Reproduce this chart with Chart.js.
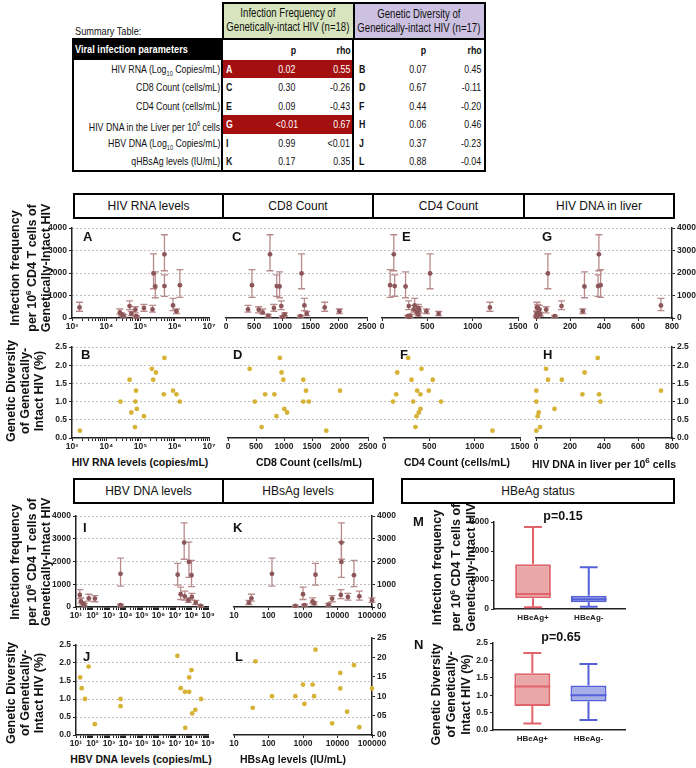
<!DOCTYPE html>
<html>
<head>
<meta charset="UTF-8">
<script src="https://cdn.jsdelivr.net/npm/chart.js@4.4.1/dist/chart.umd.min.js"></script>
<style>
    body { margin:0; background:#fff; }
    #page { position:relative; width:696px; height:768px; overflow:hidden; font-family:"Liberation Sans", Arial, sans-serif; color:#111; }
    #page canvas { position:absolute; }
    .t { position:absolute; white-space:nowrap; z-index:3; }
    .tbl { font-size:11px; line-height:18px; }
    .hbox { position:absolute; border:2px solid #000; box-sizing:border-box; font-size:12px; text-align:center; z-index:3; background:#fff; }
    .ytitle { position:absolute; font-weight:bold; font-size:12.5px; text-align:center; white-space:nowrap; transform:rotate(-90deg); z-index:3; }
    .xtitle { position:absolute; font-weight:bold; font-size:10.5px; white-space:nowrap; transform:translateX(-50%); z-index:3; }
    .letter { position:absolute; font-weight:bold; font-size:13px; line-height:13px; z-index:3; }
</style>
</head>
<body>
<div id="page"></div>

<script>
    // ---- summary table ----
    const tableParams = ['HIV RNA (Log<sub style="font-size:7px">10</sub> Copies/mL)', 'CD8 Count (cells/mL)', 'CD4 Count (cells/mL)',
        'HIV DNA in the Liver per 10<sup style="font-size:7px">6</sup> cells', 'HBV DNA (Log<sub style="font-size:7px">10</sub> Copies/mL)', 'qHBsAg levels (IU/mL)'];
    const freqLetters = ['A', 'C', 'E', 'G', 'I', 'K'];
    const freqP = ['0.02', '0.30', '0.09', '<0.01', '0.99', '0.17'];
    const freqRho = ['0.55', '-0.26', '-0.43', '0.67', '<0.01', '0.35'];
    const divLetters = ['B', 'D', 'F', 'H', 'J', 'L'];
    const divP = ['0.07', '0.67', '0.44', '0.06', '0.37', '0.88'];
    const divRho = ['0.45', '-0.11', '-0.20', '0.46', '-0.23', '-0.04'];
    const sigRows = [0, 3];

    // ---- infection frequency (same 18 people in every panel, same order) ----
    const freqVal = [2830, 1980, 1460, 1420, 1400, 560, 530, 470, 440, 380, 370, 300, 250, 190, 160, 100, 80, 50];
    const freqLo  = [2100, 1300, 920, 960, 900, 330, 370, 300, 300, 260, 230, 200, 170, 110, 90, 50, 40, 20];
    const freqHi  = [3700, 2850, 2150, 1920, 2050, 870, 760, 700, 600, 560, 500, 400, 400, 290, 230, 160, 120, 80];
    const hivRna   = [5e5, 2.4e5, 1.41e6, 5e5, 2.7e5, 8.9e5, 4.8e4, 1660, 1.26e5, 2.24e5, 7.1e4, 1.12e6, 2.5e4, 5.4e4, 2.8e4, 3.2e4, 7.4e4, 7.6e4];
    const cd8      = [780, 1340, 460, 900, 950, 1390, 980, 1750, 850, 390, 580, 2010, 650, 1430, 1040, 750, 1320, 1000];
    const cd4      = [130, 530, 90, 140, 260, 360, 295, 1190, 400, 350, 410, 490, 385, 625, 400, 310, 285, 300];
    const liverDna = [370, 70, 380, 365, 285, 735, 150, 5, 10, 20, 60, 275, 15, 3, 25, 8, 110, 2];
    const hbvDna   = [3.6e7, 7e7, 5000, 1.45e7, 1e8, 2.2e7, 17, 3.9e7, 1.05e8, 60, 140, 6.5e7, 20, 1.8e8, 25, 32, 5000, 3.6e8];
    const hbsAg    = [13000, 13000, 126, 2300, 30000, 1000, 12500, 43000, 20000, 32, 7000, 100000, 1900, 27, 2100, 5500, 1100, 600];

    // ---- genetic diversity ----
    const divRnaX = [1700, 26000, 48000, 54000, 69000, 71000, 74000, 78000, 126000, 214000, 234000, 282000, 479000, 500000, 891000, 1.12e6, 1.41e6];
    const divRnaY = [0.2, 1.0, 1.6, 0.7, 0.3, 1.0, 1.3, 0.8, 0.6, 1.9, 1.6, 1.8, 1.2, 2.2, 1.3, 1.2, 1.0];
    const divCd8X = [387, 478, 601, 663, 828, 865, 926, 957, 988, 1006, 1055, 1344, 1344, 1393, 1442, 1755, 2000];
    const divCd8Y = [1.9, 1.0, 0.3, 1.2, 1.2, 0.6, 2.2, 1.8, 1.6, 0.8, 0.7, 1.6, 1.0, 1.3, 1.0, 0.2, 1.3];
    const divCd4X = [267, 146, 413, 304, 538, 135, 366, 494, 402, 99, 322, 629, 402, 384, 358, 347, 1196];
    const divCd4Y = [2.2, 1.8, 1.9, 1.6, 1.6, 1.2, 1.3, 1.3, 1.2, 1.0, 1.0, 1.0, 0.8, 0.7, 0.6, 0.3, 0.2];
    const divLivX = [2, 2, 2, 10, 16, 24, 59, 71, 109, 152, 273, 286, 363, 371, 379, 735];
    const divLivY = [1.3, 1.0, 0.2, 0.6, 0.7, 0.3, 1.9, 1.6, 0.8, 1.6, 1.2, 1.8, 2.2, 1.2, 1.0, 1.3];
    const divHbvX = [18, 22, 35, 58, 138, 5000, 5000, 1.4e7, 2.2e7, 4e7, 4.2e7, 7.2e7, 7.2e7, 1e8, 1.1e8, 1.7e8, 3.8e8];
    const divHbvY = [1.6, 1.3, 1.0, 1.9, 0.3, 1.0, 0.8, 2.2, 1.3, 1.2, 0.2, 1.2, 1.6, 1.8, 0.6, 0.7, 1.0];
    const divSagX = [35, 42, 126, 600, 1000, 1100, 1900, 2100, 2300, 7000, 12000, 12000, 19000, 30000, 43000, 100000];
    const divSagY = [7, 19, 10, 10, 13, 8, 13, 10, 22, 3, 16, 12, 6, 18, 2, 12];

    // ---- HBeAg box plots ----
    const boxGroups = ['HBeAg+', 'HBeAg-'];
    const mMin = [60, 80], mQ1 = [370, 230], mMed = [520, 335], mQ3 = [1540, 460], mMax = [2830, 1440];
    const nMin = [0.19, 0.29], nQ1 = [0.69, 0.82], nMed = [1.25, 1.0], nQ3 = [1.63, 1.28], nMax = [2.21, 1.9];
</script>

<script>
    const page = document.getElementById('page');
    const AX = '#222';
    const FREQ_PT = '#8d5659', FREQ_ERR = '#b98a8c', DIV_PT = '#d6b236';
    const M = {l: 36, r: 36, t: 8, b: 16};
    const MB = {l: 36, r: 36, t: 8, b: 20};
    const SUP = ['⁰', '¹', '²', '³', '⁴', '⁵', '⁶', '⁷', '⁸', '⁹'];
    const NARROW = 0.8;   // table font is a condensed face; squeeze Liberation Sans to match

    Chart.defaults.font.family = '"Liberation Sans", Arial, sans-serif';
    Chart.defaults.font.weight = 'bold';
    Chart.defaults.font.size = 8.5;
    Chart.defaults.color = AX;
    Chart.defaults.animation = false;
    Chart.defaults.responsive = false;
    Chart.defaults.plugins.legend.display = false;
    Chart.defaults.plugins.tooltip.enabled = false;

    function el(tag, cls, html, css) {
        var d = document.createElement(tag);
        if (cls) d.className = cls;
        if (html != null) d.innerHTML = html;
        if (css) d.style.cssText += css;
        page.appendChild(d);
        return d;
    }
    // table text anchored at x (left edge, centre or right edge), squeezed horizontally
    function tcell(content, asText, x, y, align, css) {
        var left = align === 'right' ? x - 300 : (align === 'center' ? x - 150 : x);
        var d = el('div', 't tbl', null, 'left:' + left + 'px;top:' + y + 'px;width:300px;text-align:' + align + ';' + (css || ''));
        var s = document.createElement('span');
        s.style.display = 'inline-block';
        s.style.transform = 'scaleX(' + NARROW + ')';
        s.style.transformOrigin = align === 'right' ? '100% 50%' : (align === 'center' ? '50% 50%' : '0 50%');
        if (asText) s.textContent = content; else s.innerHTML = content;
        d.appendChild(s);
        return d;
    }

    // ---------- table ----------
    tcell('Summary Table:', true, 75, 22, 'left', 'font-size:11.5px;');
    el('div', 't', '', 'left:222px;top:2px;width:133px;height:38px;box-sizing:border-box;border:2px solid #000;background:#d7e4bd;z-index:2;');
    el('div', 't', '', 'left:353px;top:2px;width:133px;height:38px;box-sizing:border-box;border:2px solid #000;background:#ccc1e0;z-index:2;');
    tcell('Infection Frequency of<br>Genetically-intact HIV (n=18)', false, 288, 6, 'center', 'line-height:14px;font-size:12px;');
    tcell('Genetic Diversity of<br>Genetically-intact HIV (n=17)', false, 419, 7, 'center', 'line-height:14px;font-size:12px;');
    el('div', 't', '', 'left:72px;top:38px;width:414px;height:134px;box-sizing:border-box;border:2px solid #000;z-index:4;');
    el('div', 't', '', 'left:72px;top:38px;width:150px;height:22px;background:#000;z-index:2;');
    tcell('Viral infection parameters', true, 75, 40, 'left', 'color:#fff;font-weight:bold;font-size:11.5px;');
    el('div', 't', '', 'left:221px;top:38px;width:2px;height:133px;background:#000;z-index:4;');
    el('div', 't', '', 'left:352px;top:38px;width:2px;height:133px;background:#000;z-index:4;');
    tcell('p', true, 293, 41, 'center', 'font-weight:bold;');
    tcell('rho', true, 351, 41, 'right', 'font-weight:bold;');
    tcell('p', true, 423, 41, 'center', 'font-weight:bold;');
    tcell('rho', true, 482, 41, 'right', 'font-weight:bold;');
    for (var i = 0; i < tableParams.length; i++) {
        var rowTop = 60 + i * 18.4;
        var sig = sigRows.indexOf(i) >= 0;
        if (sig) el('div', 't', '', 'left:222px;top:' + rowTop + 'px;width:131px;height:18.4px;background:#a3100f;z-index:2;');
        var fc = sig ? 'color:#fff;' : '';
        tcell(tableParams[i], false, 220, rowTop, 'right');
        tcell(freqLetters[i], true, 226, rowTop, 'left', 'font-weight:bold;' + fc);
        tcell(freqP[i], true, 287, rowTop, 'center', fc);
        tcell(freqRho[i], true, 350, rowTop, 'right', fc);
        tcell(divLetters[i], true, 359, rowTop, 'left', 'font-weight:bold;');
        tcell(divP[i], true, 418, rowTop, 'center');
        tcell(divRho[i], true, 481, rowTop, 'right');
    }

    // ---------- header boxes ----------
    function hbox(text, x1, x2, y1, y2) {
        el('div', 'hbox', text, 'left:' + x1 + 'px;top:' + y1 + 'px;width:' + (x2 - x1 + 2) + 'px;height:' + (y2 - y1) + 'px;line-height:' + (y2 - y1 - 4) + 'px;');
    }
    hbox('HIV RNA levels', 73, 222, 193, 219);
    hbox('CD8 Count', 222, 372, 193, 219);
    hbox('CD4 Count', 372, 523, 193, 219);
    hbox('HIV DNA in liver', 523, 673, 193, 219);
    hbox('HBV DNA levels', 73, 222, 478, 504);
    hbox('HBsAg levels', 222, 372, 478, 504);
    hbox('HBeAg status', 401, 673, 478, 504);

    // ---------- titles and letters ----------
    function yTitle(lines, cx, cy, lh) {
        var w = 170, h = lines.length * lh;
        el('div', 'ytitle', lines.join('<br>'), 'width:' + w + 'px;height:' + h + 'px;left:' + (cx - w / 2) + 'px;top:' + (cy - h / 2) + 'px;line-height:' + lh + 'px;');
    }
    var freqTitle = ['Infection frequency', 'per 10<sup style="font-size:8px">6</sup> CD4 T cells of', 'Genetically-Intact HIV'];
    var divTitle = ['Genetic Diversity', 'of Genetically-', 'Intact HIV (%)'];
    yTitle(freqTitle, 29, 268, 14);
    yTitle(divTitle, 25, 391, 14);
    yTitle(freqTitle, 29, 562, 14);
    yTitle(divTitle, 25, 693, 14);
    yTitle(freqTitle, 452, 567, 15);
    yTitle(divTitle, 451, 694, 15);

    function xTitle(html, cx, top) { el('div', 'xtitle', html, 'left:' + cx + 'px;top:' + top + 'px;'); }
    xTitle('HIV RNA levels (copies/mL)', 140, 456);
    xTitle('CD8 Count (cells/mL)', 309, 456);
    xTitle('CD4 Count (cells/mL)', 457, 456);
    xTitle('HIV DNA in liver per 10<sup style="font-size:8px">6</sup> cells', 604, 456);
    xTitle('HBV DNA levels (copies/mL)', 141, 753);
    xTitle('HBsAg levels (IU/mL)', 293, 753);

    function letter(ch, x, y) { el('div', 'letter', ch, 'left:' + x + 'px;top:' + y + 'px;'); }
    letter('A', 83, 230); letter('C', 232, 230); letter('E', 402, 230); letter('G', 542, 230);
    letter('B', 81, 348); letter('D', 233, 348); letter('F', 400, 348); letter('H', 543, 348);
    letter('I', 83, 521); letter('K', 233, 521);
    letter('J', 83, 650); letter('L', 235, 650);
    letter('M', 413, 515); letter('N', 414, 638);
    el('div', 't', 'p=0.15', 'left:563px;top:509px;transform:translateX(-50%);font-weight:bold;font-size:12.5px;');
    el('div', 't', 'p=0.65', 'left:561px;top:630px;transform:translateX(-50%);font-weight:bold;font-size:12.5px;');

    // ---------- chart helpers ----------
    function canvasAt(x, y, w, h, z, m) {
        var c = document.createElement('canvas');
        var W = w + m.l + m.r, H = h + m.t + m.b;
        c.width = W; c.height = H;
        c.style.width = W + 'px'; c.style.height = H + 'px';
        c.style.left = (x - m.l) + 'px'; c.style.top = (y - m.t) + 'px';
        c.style.zIndex = z;
        page.appendChild(c);
        return c;
    }

    function logTicks(e0, e1, minor) {
        var out = [];
        for (var e = e0; e <= e1; e++) {
            out.push(Math.pow(10, e));
            if (minor && e < e1) for (var k = 2; k <= 9; k++) out.push(k * Math.pow(10, e));
        }
        return out;
    }
    function supLabel(v) {
        var e = Math.log10(v);
        return Math.abs(e - Math.round(e)) < 1e-9 ? '10' + SUP[Math.round(e)] : '';
    }
    var plain = function(v) { return String(v); };
    var d1 = function(v) { return v.toFixed(1); };

    function xScale(type, min, max, step, tickList, cb) {
        var s = {
            type: type, min: min, max: max, offset: false,
            border: {display: true, color: AX, width: 1.5},
            grid: {drawOnChartArea: false, drawTicks: true, tickLength: 3, color: AX, lineWidth: 1},
            ticks: {autoSkip: false, maxRotation: 0, padding: 1, stepSize: step, color: AX, callback: cb || plain},
            afterFit: function(sc) { sc.height = M.b; }
        };
        if (tickList) s.afterBuildTicks = function(sc) { sc.ticks = tickList.map(function(v) { return {value: v}; }); };
        return s;
    }
    function yScale(pos, max, step, cb) {
        if (!pos) return {display: false, min: 0, max: max};
        return {
            position: pos, min: 0, max: max,
            border: {display: true, color: AX, width: 1.5},
            grid: {drawOnChartArea: false, drawTicks: true, tickLength: 3, color: AX, lineWidth: 1},
            ticks: {stepSize: step, padding: 2, color: AX, callback: cb},
            afterFit: function(sc) { sc.width = pos === 'left' ? M.l : M.r; }
        };
    }

    const errorBars = {
        id: 'errorBars',
        beforeDatasetsDraw: function(chart) {
            var ctx = chart.ctx, xs = chart.scales.x, ys = chart.scales.y;
            chart.data.datasets.forEach(function(ds) {
                if (!ds.lo) return;
                ctx.save();
                ctx.strokeStyle = FREQ_ERR;
                ctx.lineWidth = 1.3;
                ds.data.forEach(function(p, i) {
                    var px = xs.getPixelForValue(p.x);
                    var y1 = ys.getPixelForValue(ds.lo[i]), y2 = ys.getPixelForValue(ds.hi[i]);
                    ctx.beginPath();
                    ctx.moveTo(px, y1); ctx.lineTo(px, y2);
                    ctx.moveTo(px - 3.5, y1); ctx.lineTo(px + 3.5, y1);
                    ctx.moveTo(px - 3.5, y2); ctx.lineTo(px + 3.5, y2);
                    ctx.stroke();
                });
                ctx.restore();
            });
        }
    };

    function panel(x, y, w, h, xs, ys, datasets) {
        var c = canvasAt(x, y, w, h, 2, M);
        return new Chart(c, {
            type: 'scatter',
            data: {datasets: datasets},
            options: {
                layout: {padding: {left: ys.position === 'left' ? 0 : M.l, right: ys.position === 'right' ? 0 : M.r, top: M.t, bottom: 0}},
                scales: {x: xs, y: ys}
            },
            plugins: [errorBars]
        });
    }

    function freqSet(xv) {
        return [{
            data: xv.map(function(v, i) { return {x: v, y: freqVal[i]}; }),
            lo: freqLo, hi: freqHi,
            pointRadius: 2.4, pointBorderWidth: 0, pointBackgroundColor: FREQ_PT, clip: false
        }];
    }
    function divSet(xv, yv) {
        return [{
            data: xv.map(function(v, i) { return {x: v, y: yv[i]}; }),
            pointRadius: 2.4, pointBorderWidth: 0, pointBackgroundColor: DIV_PT, clip: false
        }];
    }

    function gridRow(x, y, w, h, max, step) {
        var c = canvasAt(x, y, w, h, 1, {l: 0, r: 0, t: 2, b: 2});
        new Chart(c, {
            type: 'scatter',
            data: {datasets: []},
            options: {
                layout: {padding: {top: 2, bottom: 2, left: 0, right: 0}},
                scales: {
                    x: {display: false, min: 0, max: 1},
                    y: {
                        min: 0, max: max,
                        ticks: {display: false, stepSize: step},
                        grid: {drawTicks: false, lineWidth: 1, color: function(c) { return c.tick && c.tick.value === 0 ? 'rgba(0,0,0,0)' : '#bdbdbd'; }},
                        border: {display: false, dash: [2, 2]},
                        afterFit: function(sc) { sc.width = 0; }
                    }
                }
            }
        });
    }

    // background dotted grids across each row
    gridRow(72, 228, 600, 90, 4000, 1000);
    gridRow(72, 347, 600, 91, 2.5, 0.5);
    gridRow(76, 516, 296, 91, 4000, 1000);
    gridRow(76, 645, 296, 90, 2.5, 0.5);

    // row 1: infection frequency
    panel(72, 228, 137, 90, xScale('logarithmic', 1e3, 1e7, null, logTicks(3, 7, true), supLabel), yScale('left', 4000, 1000, plain), freqSet(hivRna));
    panel(226, 228, 141, 90, xScale('linear', 0, 2500, 500), yScale(null, 4000), freqSet(cd8));
    panel(382, 228, 136, 90, xScale('linear', 0, 1500, 500), yScale(null, 4000), freqSet(cd4));
    panel(536, 228, 136, 90, xScale('linear', 0, 800, 200), yScale('right', 4000, 1000, plain), freqSet(liverDna));

    // row 2: genetic diversity
    panel(72, 347, 137, 91, xScale('logarithmic', 1e3, 1e7, null, logTicks(3, 7, true), supLabel), yScale('left', 2.5, 0.5, d1), divSet(divRnaX, divRnaY));
    panel(228, 347, 140, 91, xScale('linear', 0, 2500, 500), yScale(null, 2.5), divSet(divCd8X, divCd8Y));
    panel(384, 347, 136, 91, xScale('linear', 0, 1500, 500), yScale(null, 2.5), divSet(divCd4X, divCd4Y));
    panel(536, 347, 136, 91, xScale('linear', 0, 800, 200), yScale('right', 2.5, 0.5, d1), divSet(divLivX, divLivY));

    // row 3: HBV
    panel(76, 516, 132, 91, xScale('logarithmic', 1e1, 1e9, null, logTicks(1, 9, true), supLabel), yScale('left', 4000, 1000, plain), freqSet(hbvDna));
    panel(234, 516, 138, 91, xScale('logarithmic', 10, 1e5, null, logTicks(1, 5, false), plain), yScale('right', 4000, 1000, plain), freqSet(hbsAg));

    // row 4
    panel(76, 645, 132, 90, xScale('logarithmic', 1e1, 1e9, null, logTicks(1, 9, true), supLabel), yScale('left', 2.5, 0.5, d1), divSet(divHbvX, divHbvY));
    panel(234, 638, 138, 97, xScale('logarithmic', 10, 1e5, null, logTicks(1, 5, false), plain), yScale('right', 25, 5, function(v) { return String(v).padStart(2, '0'); }), divSet(divSagX, divSagY));

    // ---------- box plots ----------
    const whiskers = {
        id: 'whiskers',
        afterDatasetsDraw: function(chart) {
            var ds = chart.data.datasets[0];
            var xs = chart.scales.x, ys = chart.scales.y, ctx = chart.ctx;
            var meta = chart.getDatasetMeta(0);
            ds.data.forEach(function(d, i) {
                var cx = xs.getPixelForValue(d.x), half = meta.data[i].width / 2;
                var Y = function(v) { return ys.getPixelForValue(v); };
                ctx.save();
                ctx.strokeStyle = ds.borderColor[i];
                ctx.lineWidth = 2;
                ctx.beginPath();
                ctx.moveTo(cx - half, Y(ds.med[i])); ctx.lineTo(cx + half, Y(ds.med[i]));
                ctx.moveTo(cx, Y(d.y[1])); ctx.lineTo(cx, Y(ds.mx[i]));
                ctx.moveTo(cx, Y(d.y[0])); ctx.lineTo(cx, Y(ds.mn[i]));
                ctx.moveTo(cx - half / 2, Y(ds.mx[i])); ctx.lineTo(cx + half / 2, Y(ds.mx[i]));
                ctx.moveTo(cx - half / 2, Y(ds.mn[i])); ctx.lineTo(cx + half / 2, Y(ds.mn[i]));
                ctx.stroke();
                ctx.restore();
            });
        }
    };

    function boxChart(x, y, w, h, max, step, cb, q1, med, q3, mn, mx) {
        var c = canvasAt(x, y, w, h, 2, MB);
        var xs = xScale('linear', -0.7, 1.65, null, [0, 1], function(v) { return boxGroups[v]; });
        xs.grid = {display: false, drawTicks: false};
        xs.ticks.padding = 4;
        xs.ticks.font = {size: 8, weight: 'bold'};
        xs.afterFit = function(sc) { sc.height = MB.b; };
        new Chart(c, {
            type: 'bar',
            data: {datasets: [{
                data: boxGroups.map(function(g, i) { return {x: i, y: [q1[i], q3[i]]}; }),
                med: med, mn: mn, mx: mx,
                backgroundColor: ['#e9a7a8', '#a8afe6'],
                borderColor: ['#e1646a', '#5461d8'],
                borderWidth: 2, borderSkipped: false,
                categoryPercentage: 0.8, barPercentage: 0.8
            }]},
            options: {
                layout: {padding: {left: 0, right: MB.r, top: MB.t, bottom: 0}},
                scales: {x: xs, y: yScale('left', max, step, cb)}
            },
            plugins: [whiskers]
        });
    }
    boxChart(494, 522, 131, 87, 3000, 1000, plain, mQ1, mMed, mQ3, mMin, mMax);
    boxChart(493, 643, 132, 87, 2.5, 0.5, d1, nQ1, nMed, nQ3, nMin, nMax);
</script>
</body>
</html>
